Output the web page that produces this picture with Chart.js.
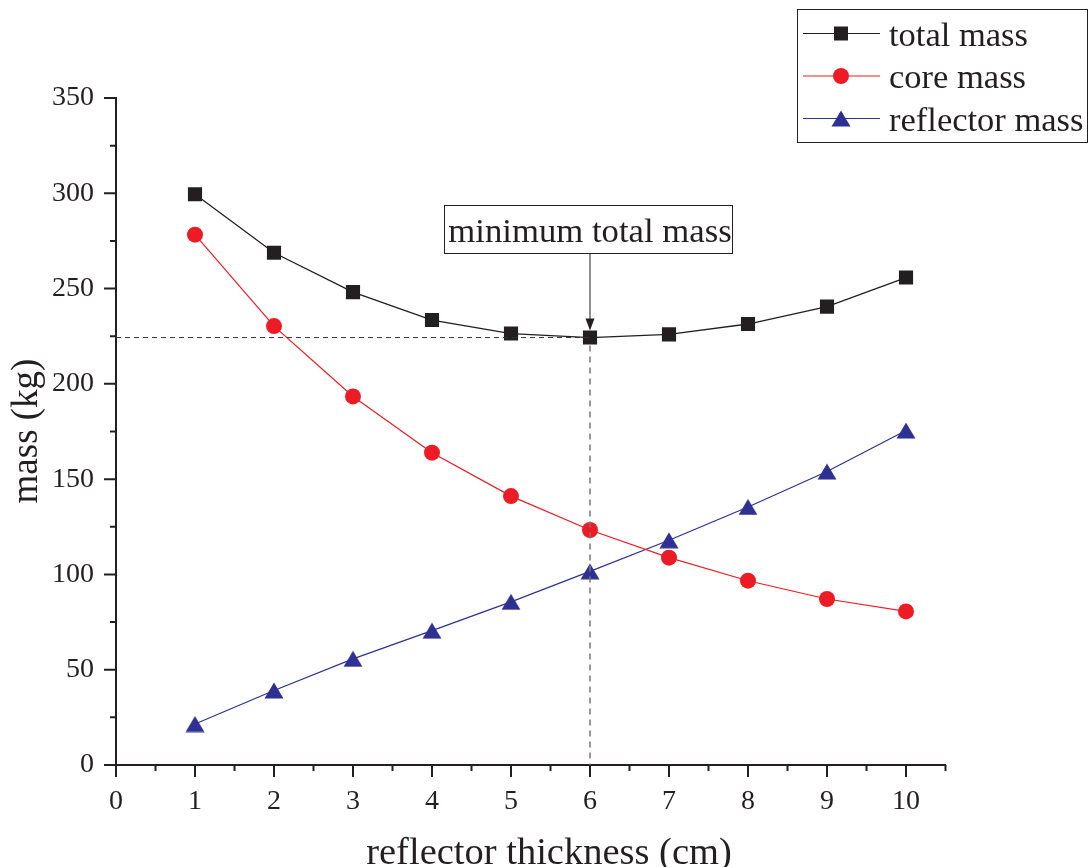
<!DOCTYPE html>
<html>
<head>
<meta charset="utf-8">
<script src="https://cdn.jsdelivr.net/npm/chart.js@4.4.1/dist/chart.umd.min.js"></script>
<style>
  html, body { margin: 0; padding: 0; background: #fff; }
  #wrap { width: 1089px; height: 867px; }
</style>
</head>
<body>
<div id="wrap"><canvas id="grafico" width="1089" height="867"></canvas></div>
<script>
// datos
const espesor = [1, 2, 3, 4, 5, 6, 7, 8, 9, 10];
const masaTotal = [299.5, 268.8, 248.1, 233.5, 226.4, 224.3, 226.0, 231.4, 240.5, 255.8];
const masaNucleo = [278.3, 230.3, 193.4, 163.9, 141.1, 123.3, 108.8, 96.7, 87.1, 80.6];
const masaReflector = [21.5, 39.1, 55.7, 70.5, 85.6, 101.6, 117.9, 135.4, 154.0, 175.5];
const ticksX = [0, 1, 2, 3, 4, 5, 6, 7, 8, 9, 10];
const ticksY = [0, 50, 100, 150, 200, 250, 300, 350];
const etiquetas = ['total mass', 'core mass', 'reflector mass'];

const NEGRO = '#231f20';
const ROJO = '#ed1c24';
const AZUL = '#2e3192';
const FUENTE = '"Liberation Serif", "Times New Roman", serif';

// triangulo centrado en su caja (como Origin)
function crearTriangulo(color) {
    const c = document.createElement('canvas');
    c.width = 20; c.height = 17;
    const g = c.getContext('2d');
    g.fillStyle = color;
    g.beginPath();
    g.moveTo(10, 0.5);
    g.lineTo(19.5, 16.5);
    g.lineTo(0.5, 16.5);
    g.closePath();
    g.fill();
    return c;
}
const triangulo = crearTriangulo(AZUL);

const puntos = serie => espesor.map((x, i) => ({ x: x, y: serie[i] }));

const extras = {
    id: 'extras',
    afterDraw(chart) {
        const ctx = chart.ctx;
        const sx = chart.scales.x;
        const sy = chart.scales.y;
        const x0 = sx.getPixelForValue(0);
        const y0 = sy.getPixelForValue(0);

        ctx.save();
        // marcas de los ejes
        ctx.strokeStyle = NEGRO;
        ctx.lineWidth = 2;
        ctx.beginPath();
        ticksX.forEach(v => {
            const p = sx.getPixelForValue(v);
            ctx.moveTo(p, y0); ctx.lineTo(p, y0 + 12);
            const m = sx.getPixelForValue(v + 0.5);
            ctx.moveTo(m, y0); ctx.lineTo(m, y0 + 6);
        });
        ticksY.forEach((v, i) => {
            const p = sy.getPixelForValue(v);
            ctx.moveTo(x0, p); ctx.lineTo(x0 - 12, p);
            if (i < ticksY.length - 1) {
                const m = sy.getPixelForValue(v + 25);
                ctx.moveTo(x0, m); ctx.lineTo(x0 - 6, m);
            }
        });
        ctx.stroke();

        // lineas de referencia del minimo
        const minimo = Math.min(...masaTotal);
        const xMin = sx.getPixelForValue(espesor[masaTotal.indexOf(minimo)]);
        const yMin = sy.getPixelForValue(minimo);
        ctx.lineWidth = 1;
        ctx.setLineDash([5, 4]);
        ctx.strokeStyle = '#333';
        ctx.beginPath();
        ctx.moveTo(x0, yMin); ctx.lineTo(xMin, yMin);
        ctx.stroke();
        ctx.setLineDash([6, 5]);
        ctx.strokeStyle = '#777';
        ctx.lineWidth = 1.5;
        ctx.beginPath();
        ctx.moveTo(xMin, yMin + 8); ctx.lineTo(xMin, y0);
        ctx.stroke();
        ctx.setLineDash([]);

        // caja de anotacion y flecha
        ctx.strokeStyle = NEGRO;
        ctx.lineWidth = 1;
        ctx.strokeRect(444.5, 205.5, 288, 48);
        ctx.fillStyle = NEGRO;
        ctx.font = '34.7px ' + FUENTE;
        ctx.textAlign = 'center';
        ctx.textBaseline = 'alphabetic';
        ctx.fillText('minimum total mass', 590, 242);
        const punta = yMin - 7;
        ctx.beginPath();
        ctx.moveTo(xMin, 254); ctx.lineTo(xMin, punta - 10);
        ctx.stroke();
        ctx.beginPath();
        ctx.moveTo(xMin, punta);
        ctx.lineTo(xMin - 4.5, punta - 12);
        ctx.lineTo(xMin + 4.5, punta - 12);
        ctx.closePath();
        ctx.fill();

        // titulos de ejes
        ctx.font = '38.5px ' + FUENTE;
        ctx.fillText('reflector thickness (cm)', 549, 864);
        ctx.save();
        ctx.translate(37, 431);
        ctx.rotate(-Math.PI / 2);
        ctx.font = '37px ' + FUENTE;
        ctx.fillText('mass (kg)', 0, 0);
        ctx.restore();

        // leyenda
        ctx.lineWidth = 1;
        ctx.strokeStyle = NEGRO;
        ctx.strokeRect(797.5, 9.5, 290, 133);
        const colores = [NEGRO, ROJO, AZUL];
        const filas = [33.5, 76, 118.5];
        ctx.font = '34.5px ' + FUENTE;
        ctx.textAlign = 'left';
        filas.forEach((y, i) => {
            ctx.strokeStyle = colores[i];
            ctx.lineWidth = 1.2;
            ctx.beginPath();
            ctx.moveTo(803, y); ctx.lineTo(880, y);
            ctx.stroke();
            ctx.fillStyle = colores[i];
            if (i === 0) {
                ctx.fillRect(841 - 7, y - 7, 14, 14);
            } else if (i === 1) {
                ctx.beginPath();
                ctx.arc(841, y, 8, 0, Math.PI * 2);
                ctx.fill();
            } else {
                ctx.drawImage(triangulo, 841 - 10, y - 8.5);
            }
            ctx.fillStyle = NEGRO;
            ctx.fillText(etiquetas[i], 889, y + 12);
        });
        ctx.restore();
    }
};

const ctx = document.getElementById('grafico').getContext('2d');
new Chart(ctx, {
    type: 'line',
    data: {
        datasets: [
            {
                label: etiquetas[0],
                data: puntos(masaTotal),
                borderColor: NEGRO,
                backgroundColor: NEGRO,
                borderWidth: 1.3,
                pointStyle: 'rect',
                pointRadius: 10,
                pointBorderWidth: 0,
                tension: 0
            },
            {
                label: etiquetas[1],
                data: puntos(masaNucleo),
                borderColor: ROJO,
                backgroundColor: ROJO,
                borderWidth: 1.2,
                pointStyle: 'circle',
                pointRadius: 8,
                pointBorderWidth: 0,
                tension: 0
            },
            {
                label: etiquetas[2],
                data: puntos(masaReflector),
                borderColor: AZUL,
                backgroundColor: AZUL,
                borderWidth: 1.2,
                pointStyle: triangulo,
                pointRadius: 10,
                pointBorderWidth: 0,
                tension: 0
            }
        ]
    },
    options: {
        responsive: false,
        animation: false,
        events: [],
        layout: { padding: { top: 98, right: 143.5, left: 0, bottom: 0 } },
        plugins: { legend: { display: false }, tooltip: { enabled: false } },
        scales: {
            x: {
                type: 'linear',
                min: 0,
                max: 10.5,
                afterFit: s => { s.height = 102; },
                afterBuildTicks: s => { s.ticks = ticksX.map(v => ({ value: v })); },
                grid: { display: false, drawTicks: false },
                border: { display: true, color: NEGRO, width: 2 },
                ticks: { color: NEGRO, font: { family: FUENTE, size: 28 }, padding: 20, maxRotation: 0 }
            },
            y: {
                min: 0,
                max: 350,
                afterFit: s => { s.width = 116; },
                afterBuildTicks: s => { s.ticks = ticksY.map(v => ({ value: v })); },
                grid: { display: false, drawTicks: false },
                border: { display: true, color: NEGRO, width: 2 },
                ticks: { color: NEGRO, font: { family: FUENTE, size: 28 }, padding: 22 }
            }
        }
    },
    plugins: [extras]
});
</script>
</body>
</html>
